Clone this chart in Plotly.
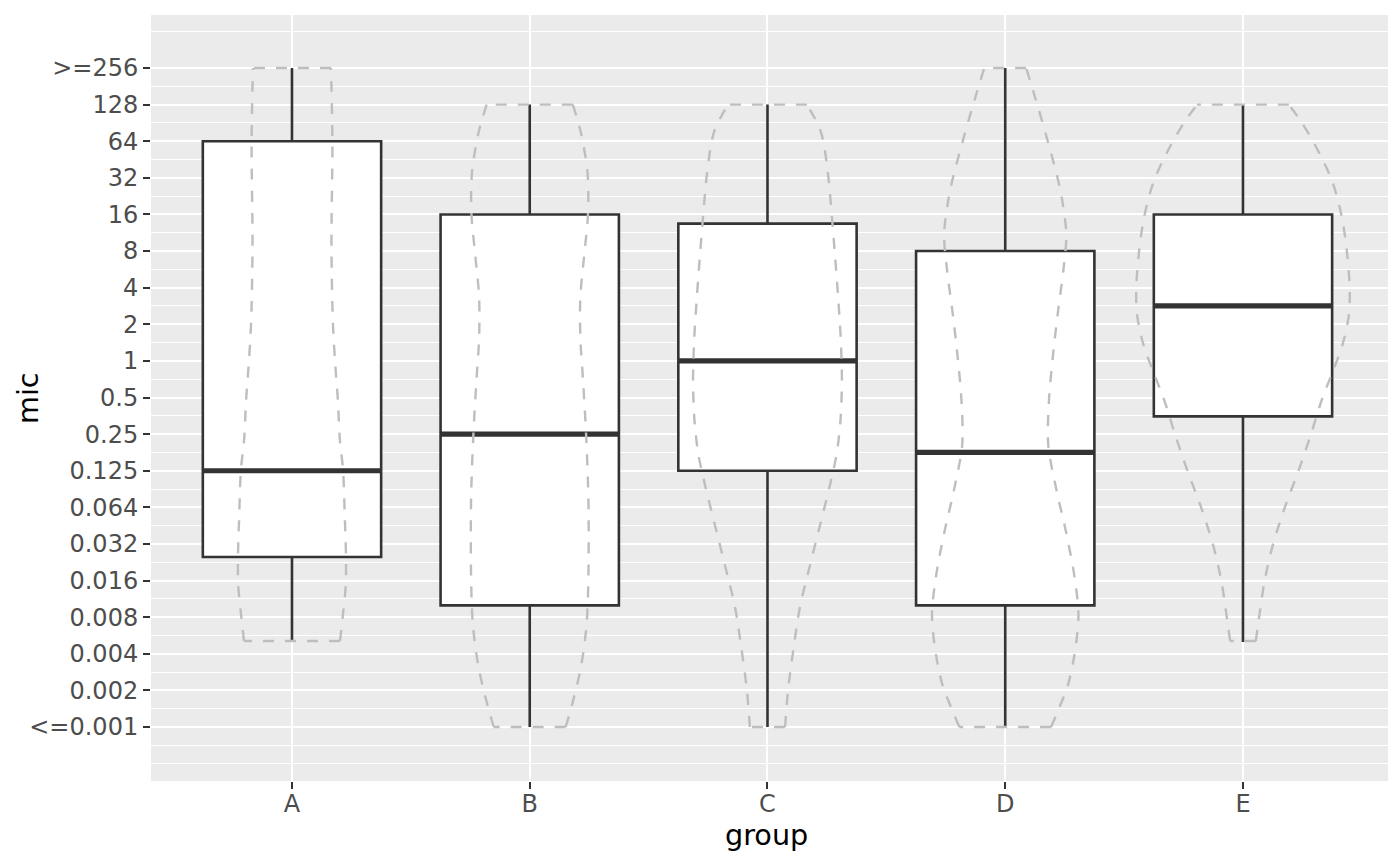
import numpy as np
import plotly.graph_objects as go

# ---------------- data ----------------
groups = ["A", "B", "C", "D", "E"]

mic_levels = [0.001, 0.002, 0.004, 0.008, 0.016, 0.032, 0.064, 0.125, 0.25, 0.5,
              1, 2, 4, 8, 16, 32, 64, 128, 256]
mic_labels = ["<=0.001", "0.002", "0.004", "0.008", "0.016", "0.032", "0.064", "0.125",
              "0.25", "0.5", "1", "2", "4", "8", "16", "32", "64", "128", ">=256"]

# box statistics (MIC values)
box_lower = [0.005, 0.001, 0.001, 0.001, 0.005]
box_q1 = [0.025, 0.01, 0.125, 0.01, 0.35]
box_median = [0.125, 0.25, 1, 0.177, 2.83]
box_q3 = [64, 16, 13.45, 8, 16]
box_upper = [256, 128, 128, 256, 128]

# violin outlines: levels on the MIC step scale (0 = <=0.001 ... 18 = >=256)
# and half-widths (in units of category spacing)
viol_A_y = [2.35, 3.12, 3.86, 4.71, 5.76, 7.0, 7.88, 8.94, 10.0, 11.06, 13.18, 15.99, 18]
viol_A_w = [0.202, 0.215, 0.226, 0.227, 0.222, 0.215, 0.201, 0.193, 0.181, 0.172, 0.166, 0.170, 0.164]

viol_B_y = [0, 0.46, 1.59, 2.72, 3.85, 6.11, 8.0, 9.49, 10.62, 11.75, 12.88, 14.01, 15.14, 16.27, 17]
viol_B_w = [0.151, 0.172, 0.214, 0.238, 0.246, 0.247, 0.237, 0.224, 0.213, 0.213, 0.229, 0.245, 0.243, 0.214, 0.181]

viol_C_y = [0, 1.03, 2.16, 3.29, 4.42, 5.54, 6.67, 7.46, 8.37, 9.49, 10.62, 11.75, 12.88, 14.01, 15.14, 16.27, 17]
viol_C_w = [0.074, 0.087, 0.110, 0.137, 0.179, 0.222, 0.265, 0.291, 0.307, 0.313, 0.308, 0.297, 0.284, 0.270, 0.254, 0.224, 0.166]

viol_D_y = [0, 0.54, 1.13, 1.97, 3.05, 4.12, 5.32, 6.52, 7.71, 8.91, 10.1, 11.3, 12.5, 13.45, 14.29, 14.89, 16.09, 17.28, 18]
viol_D_w = [0.193, 0.228, 0.263, 0.291, 0.308, 0.291, 0.256, 0.214, 0.181, 0.184, 0.200, 0.221, 0.245, 0.257, 0.242, 0.224, 0.175, 0.122, 0.088]

viol_E_y = [2.35, 3.0, 3.99, 4.98, 5.98, 6.97, 7.96, 8.96, 9.75, 10.45, 11.24, 11.94, 12.93, 13.92, 14.91, 15.91, 16.6, 17]
viol_E_w = [0.054, 0.068, 0.091, 0.126, 0.175, 0.232, 0.284, 0.333, 0.380, 0.419, 0.445, 0.449, 0.438, 0.416, 0.375, 0.302, 0.238, 0.193]

violins = [(viol_A_y, viol_A_w), (viol_B_y, viol_B_w), (viol_C_y, viol_C_w),
           (viol_D_y, viol_D_w), (viol_E_y, viol_E_w)]

# ---------------- scale ----------------
steps = np.arange(len(mic_levels))


def mic_pos(v):
    return np.interp(np.log2(np.asarray(v, dtype=float)), np.log2(mic_levels), steps)


xpos = list(range(len(groups)))
BOX_W = 0.75
DARK = "#333333"
FONT = "DejaVu Sans"

fig = go.Figure()

# boxes
fig.add_trace(go.Box(
    x=xpos,
    q1=mic_pos(box_q1).tolist(),
    median=mic_pos(box_median).tolist(),
    q3=mic_pos(box_q3).tolist(),
    lowerfence=mic_pos(box_lower).tolist(),
    upperfence=mic_pos(box_upper).tolist(),
    width=BOX_W, whiskerwidth=0, fillcolor="white",
    line=dict(color=DARK, width=2.6), boxpoints=False,
    hoverinfo="skip", showlegend=False,
))

# thick median lines
mx, my = [], []
for i, m in zip(xpos, mic_pos(box_median)):
    mx += [i - BOX_W / 2, i + BOX_W / 2, None]
    my += [m, m, None]
fig.add_trace(go.Scatter(x=mx, y=my, mode="lines", line=dict(color=DARK, width=5.2),
                         hoverinfo="skip", showlegend=False))

# violins (dashed outline, no fill)
for i, (vy, vw) in enumerate(violins):
    vy = np.asarray(vy, dtype=float)
    vw = np.asarray(vw, dtype=float)
    xs = list(i + vw) + [None] + list(i - vw) + [None] + \
        [i + vw[-1], i - vw[-1], None, i + vw[0], i - vw[0]]
    ys = list(vy) + [None] + list(vy) + [None] + [vy[-1], vy[-1], None, vy[0], vy[0]]
    fig.add_trace(go.Scatter(
        x=xs, y=ys, mode="lines",
        line=dict(color="#BEBEBE", width=2.4, dash="11px,11px", shape="spline", smoothing=0.9),
        connectgaps=False, hoverinfo="skip", showlegend=False,
    ))

minor_vals = [-1, -0.5] + [k + 0.5 for k in range(18)] + [19]

# the page body has an 8px margin: the figure is sized/offset to compensate
fig.update_layout(
    width=1384, height=850,
    margin=dict(l=143, r=4, t=7, b=77),
    paper_bgcolor="white", plot_bgcolor="#EBEBEB",
    boxmode="overlay",
    font=dict(family=FONT, color="#4D4D4D"),
    xaxis=dict(
        range=[-0.593, 4.61], tickmode="array", tickvals=xpos, ticktext=groups,
        showgrid=True, gridcolor="white", gridwidth=2, zeroline=False,
        ticks="outside", ticklen=7, tickwidth=2, tickcolor=DARK,
        tickfont=dict(size=24, color="#4D4D4D", family=FONT), showline=False,
        ticklabelstandoff=-6,
    ),
    yaxis=dict(
        range=[-1.475, 19.448], tickmode="array", tickvals=steps.tolist(), ticktext=mic_labels,
        showgrid=True, gridcolor="white", gridwidth=2, zeroline=False,
        ticks="outside", ticklen=7, tickwidth=2, tickcolor=DARK,
        tickfont=dict(size=24, color="#4D4D4D", family=FONT), showline=False,
        minor=dict(tickmode="array", tickvals=minor_vals, showgrid=True,
                   gridcolor="white", gridwidth=1.2, ticks=""),
    ),
    annotations=[
        dict(text="group", xref="paper", yref="paper", x=0.4979, y=-0.0705,
             xanchor="center", yanchor="middle", showarrow=False,
             font=dict(size=28.7, color="black", family=FONT)),
        dict(text="mic", xref="paper", yref="paper", x=-0.0994, y=0.5,
             xanchor="center", yanchor="middle", showarrow=False, textangle=-90,
             font=dict(size=28.7, color="black", family=FONT)),
    ],
)

fig.write_html("out.html")
